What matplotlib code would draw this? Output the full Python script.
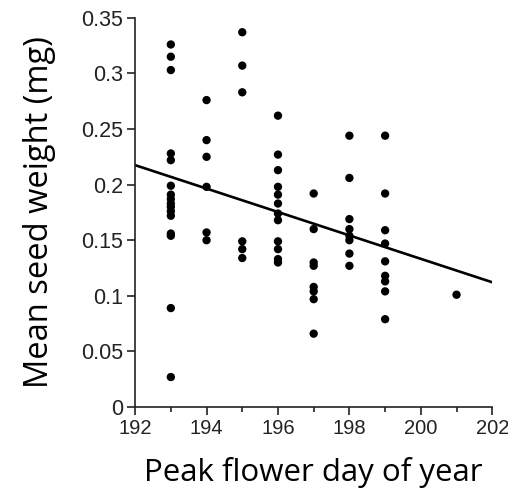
import numpy as np
import matplotlib.pyplot as plt
from matplotlib.ticker import FuncFormatter, MultipleLocator

# peak flowering day and mean seed weight (mg) per plant
day_193 = [0.326, 0.315, 0.303, 0.228, 0.222, 0.199, 0.191, 0.187, 0.183,
           0.180, 0.176, 0.172, 0.156, 0.154, 0.089, 0.027]
day_194 = [0.276, 0.240, 0.225, 0.198, 0.157, 0.150]
day_195 = [0.337, 0.307, 0.283, 0.149, 0.142, 0.134]
day_196 = [0.262, 0.227, 0.213, 0.198, 0.191, 0.183, 0.174, 0.168, 0.149,
           0.142, 0.133, 0.130]
day_197 = [0.192, 0.160, 0.130, 0.127, 0.108, 0.104, 0.097, 0.066]
day_198 = [0.244, 0.206, 0.169, 0.160, 0.154, 0.150, 0.138, 0.127]
day_199 = [0.244, 0.192, 0.159, 0.147, 0.131, 0.118, 0.113, 0.104, 0.079]
day_201 = [0.101]

groups = {193: day_193, 194: day_194, 195: day_195, 196: day_196,
          197: day_197, 198: day_198, 199: day_199, 201: day_201}

x = np.concatenate([[d] * len(v) for d, v in groups.items()])
y = np.concatenate(list(groups.values()))

# regression line end points
line_x = [192, 202]
line_y = [0.2175, 0.1122]

fig = plt.figure(figsize=(5.08, 4.94), dpi=100)
ax = fig.add_axes([0.266, 0.176, 0.703, 0.788])

ax.scatter(x, y, s=36, color='black', edgecolors='none', zorder=3)
ax.plot(line_x, line_y, color='black', lw=1.9, zorder=2)

ax.set_xlim(192, 202)
ax.set_ylim(0, 0.35)
ax.xaxis.set_major_locator(MultipleLocator(2))
ax.xaxis.set_minor_locator(MultipleLocator(1))
ax.yaxis.set_major_locator(MultipleLocator(0.05))
ax.yaxis.set_major_formatter(FuncFormatter(lambda v, p: '%g' % round(v, 2)))

for s in ['top', 'right']:
    ax.spines[s].set_visible(False)
for s in ['left', 'bottom']:
    ax.spines[s].set_linewidth(1.2)
    ax.spines[s].set_color('#222222')

ax.tick_params(which='major', direction='out', length=6, width=1.2,
               colors='#222222')
ax.tick_params(axis='y', pad=2.5, labelsize=15.5)
ax.tick_params(axis='x', pad=2.5, labelsize=14.5)
ax.tick_params(which='minor', direction='out', length=3.5, width=1.2,
               colors='#222222')
for lab in ax.get_xticklabels() + ax.get_yticklabels():
    lab.set_family('Liberation Sans')

ax.set_xlabel('Peak flower day of year', fontsize=22.5, family='Open Sans',
              labelpad=14)
ax.set_ylabel('Mean seed weight (mg)', fontsize=23.5, family='Open Sans',
              labelpad=18)

fig.savefig('out.png', dpi=100)
